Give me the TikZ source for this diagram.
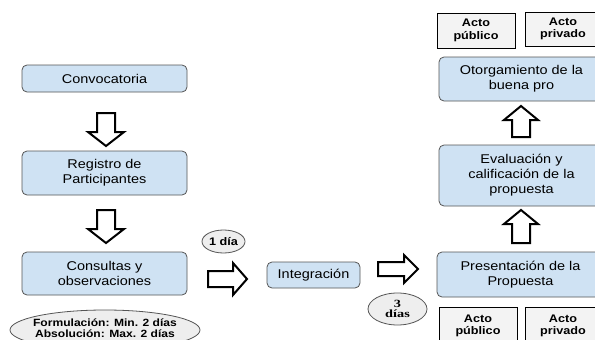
\documentclass[tikz,border=0pt]{standalone}
\usepackage{fontspec}
\setmainfont{Liberation Sans}
\newfontfamily\boxfont[FakeStretch=1.14]{Liberation Sans}
\newfontfamily\smallbold[FakeStretch=1.15]{Liberation Sans Bold}
\newfontfamily\serifbold[FakeStretch=1.3]{Liberation Serif Bold}
\usetikzlibrary{shapes.geometric}
\definecolor{boxblue}{HTML}{CFE2F3}
\definecolor{boxedge}{HTML}{555555}
\definecolor{ovalgray}{HTML}{EEEEEE}
\definecolor{actogray}{HTML}{F3F3F3}
\tikzset{
  stepbox/.style={draw=boxedge, line width=0.8pt, fill=boxblue, rounded corners=5pt,
    inner sep=0pt, align=center, font=\boxfont\fontsize{12.7}{15}\selectfont},
  actobox/.style={draw=black, line width=0.8pt, fill=actogray, inner sep=0pt,
    align=center, font=\smallbold\fontsize{11}{12.5}\selectfont},
  oval/.style={draw=boxedge, line width=0.8pt, fill=ovalgray, ellipse, inner sep=0pt,
    align=center},
  blockarr/.style={draw=black, line width=2pt, fill=white, line join=miter}
}
\begin{document}
\begin{tikzpicture}[x=1pt, y=-1pt]
\useasboundingbox (0,0) rectangle (595,340);
\fill[white] (0,0) rectangle (595,340);

% left column
\node[stepbox, minimum width=165pt, minimum height=27pt] (conv) at (104.5,78.5) {Convocatoria};
\node[stepbox, minimum width=165pt, minimum height=44pt] (reg) at (104.5,173) {Registro de\\Participantes};
\node[stepbox, minimum width=165pt, minimum height=43pt] (cons) at (104.5,273.5) {Consultas y\\observaciones};
\node[oval, minimum width=190pt, minimum height=40pt] (plazo) at (105,330) {};
\node[font=\smallbold\fontsize{10.5}{11.3}\selectfont, align=center, inner sep=0pt] (plazotxt) at (105,328.3) {Formulación: Min. 2 días\\Absolución: Max. 2 días};

% middle
\node[oval, minimum width=43pt, minimum height=23pt, font=\smallbold\fontsize{11}{12}\selectfont] (d1) at (223.5,241.5) {1 día};
\node[stepbox, minimum width=93pt, minimum height=26pt] (integ) at (313.5,275) {Integración};
\node[oval, minimum width=59pt, minimum height=32pt, font=\serifbold\fontsize{11}{9.5}\selectfont] (d3) at (397.5,309) {3\\días};

% right column
\node[stepbox, minimum width=167pt, minimum height=45pt] (pres) at (520.5,274.5) {Presentación de la\\Propuesta};
\node[stepbox, minimum width=165pt, minimum height=61pt] (eval) at (521.5,175.5) {Evaluación y\\calificación de la\\propuesta};
\node[stepbox, minimum width=165pt, minimum height=44pt] (otor) at (521.5,79) {Otorgamiento de la\\buena pro};

\node[actobox, minimum width=78pt, minimum height=35pt] (apub1) at (476,30.5) {Acto\\público};
\node[actobox, minimum width=76pt, minimum height=34pt] (apriv1) at (563,29) {Acto\\privado};
\node[actobox, minimum width=78pt, minimum height=38pt] (apub2) at (478,326) {Acto\\público};
\node[actobox, minimum width=76pt, minimum height=38pt] (apriv2) at (563,326) {Acto\\privado};

% block arrows
\draw[blockarr] (97,113) -- (115,113) -- (115,132) -- (124,132) -- (106,146) -- (88,132) -- (97,132) -- cycle;
\draw[blockarr] (97,210) -- (115,210) -- (115,229) -- (124,229) -- (106,243) -- (88,229) -- (97,229) -- cycle;
\draw[blockarr] (208,271) -- (233,271) -- (233,263) -- (247,279) -- (233,295) -- (233,287) -- (208,287) -- cycle;
\draw[blockarr] (378,262) -- (404,262) -- (404,255) -- (418,269) -- (404,283) -- (404,276) -- (378,276) -- cycle;
\draw[blockarr] (521,210) -- (538,224) -- (530,224) -- (530,243) -- (512,243) -- (512,224) -- (504,224) -- cycle;
\draw[blockarr] (521,106) -- (538,120) -- (530,120) -- (530,137) -- (512,137) -- (512,120) -- (504,120) -- cycle;
\end{tikzpicture}
\end{document}
